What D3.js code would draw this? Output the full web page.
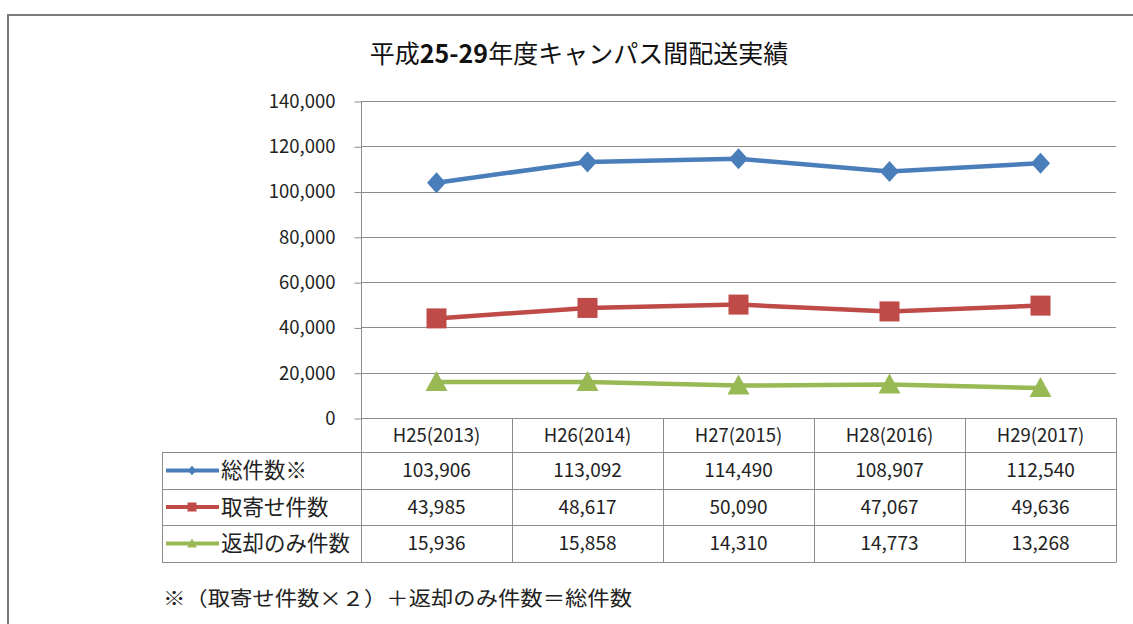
<!DOCTYPE html>
<html><head><meta charset="utf-8">
<script src="https://cdn.jsdelivr.net/npm/d3@7"></script>
<style>
html,body{margin:0;padding:0;background:#fff;}
svg{display:block;font-family:"Noto Sans CJK JP","Noto Sans",sans-serif;}
</style></head>
<body><svg id="c" width="1133" height="624"></svg>
<script>
const titleParts = ["平成","25-29","年度キャンパス間配送実績"];
const categories = ["H25(2013)","H26(2014)","H27(2015)","H28(2016)","H29(2017)"];
const seriesNames = ["総件数※","取寄せ件数","返却のみ件数"];
const totalValues = [103906,113092,114490,108907,112540];
const pickupValues = [43985,48617,50090,47067,49636];
const returnOnlyValues = [15936,15858,14310,14773,13268];
const yTicks = [0,20000,40000,60000,80000,100000,120000,140000];
const footnote = "※（取寄せ件数×２）＋返却のみ件数＝総件数";

const colors = ["#4A7EBB","#BE4B48","#98B954"];
const series = [
  {name:seriesNames[0], values:totalValues, color:colors[0], shape:"diamond"},
  {name:seriesNames[1], values:pickupValues, color:colors[1], shape:"square"},
  {name:seriesNames[2], values:returnOnlyValues, color:colors[2], shape:"triangle"}
];

const svg = d3.select("#c");
svg.append("path").attr("d","M8,624 L8,15 L1140,15").attr("fill","none")
  .attr("stroke","#7a7a7a").attr("stroke-width",2);

const tt = svg.append("text").attr("x",579).attr("y",63).attr("text-anchor","middle")
  .attr("font-size",25).attr("fill","#111");
titleParts.forEach((p,i)=>tt.append("tspan").attr("font-weight",i===1?700:400).text(p));

const pL = 361, pR = 1116, pT = 101, pB = 418;
const x = d3.scaleBand().domain(categories).range([pL,pR]);
const y = d3.scaleLinear().domain([0,140000]).range([pB,pT]);

svg.append("g").selectAll("line").data(yTicks.filter(d=>d>0)).join("line")
  .attr("x1",pL).attr("x2",pR).attr("y1",d=>Math.round(y(d))+0.5).attr("y2",d=>Math.round(y(d))+0.5)
  .attr("stroke","#8c8c8c").attr("stroke-width",1);

const ax = svg.append("g").attr("transform",`translate(${pL+0.5},0.5)`)
  .call(d3.axisLeft(y).tickValues(yTicks).tickFormat(d3.format(",")).tickSize(7).tickPadding(19));
ax.select(".domain").attr("stroke","#8c8c8c").attr("d",`M0,${y(0)}V${pT}`);
ax.selectAll(".tick line").attr("stroke","#8c8c8c");
ax.selectAll(".tick text").attr("font-size",18.5).attr("fill","#222").attr("font-family","'Noto Sans CJK JP',sans-serif");

function markerPath(shape, s){
  if(shape==="diamond") return `M0,${-s*1.05}L${s*0.95},0L0,${s*1.05}L${-s*0.95},0Z`;
  if(shape==="square") return `M${-s},${-s}H${s}V${s}H${-s}Z`;
  return `M0,${-s*1.1}L${s*1.1},${s*0.9}L${-s*1.1},${s*0.9}Z`;
}
const cx = d => x(d) + x.bandwidth()/2;

series.forEach(s=>{
  const pts = categories.map((c,i)=>[cx(c), y(s.values[i])]);
  svg.append("path").attr("d",d3.line()(pts)).attr("fill","none")
    .attr("stroke",s.color).attr("stroke-width",4.5).attr("stroke-linejoin","round");
  svg.append("g").selectAll("path").data(pts).join("path")
    .attr("transform",d=>`translate(${d[0]},${d[1]})`)
    .attr("d",markerPath(s.shape, 10)).attr("fill",s.color);
});

const headerTop = pB, headerBot = 452;
const rowBounds = [452,489,525,562];
const legendLeft = 162;
const tg = svg.append("g");
const lc = "#8c8c8c";
tg.append("line").attr("x1",pL).attr("x2",pR).attr("y1",pB+0.5).attr("y2",pB+0.5).attr("stroke",lc);
rowBounds.forEach(b=>tg.append("line").attr("x1",legendLeft).attr("x2",pR).attr("y1",b+0.5).attr("y2",b+0.5).attr("stroke",lc));
const colEdges = categories.map(c=>x(c)).concat([pR]);
colEdges.forEach(e=>tg.append("line").attr("x1",Math.round(e)+0.5).attr("x2",Math.round(e)+0.5).attr("y1",headerTop).attr("y2",rowBounds[3]+0.5).attr("stroke",lc));
tg.append("line").attr("x1",legendLeft+0.5).attr("x2",legendLeft+0.5).attr("y1",rowBounds[0]).attr("y2",rowBounds[3]+0.5).attr("stroke",lc);

tg.selectAll(".hd").data(categories).join("text").attr("class","hd")
  .attr("x",d=>cx(d)).attr("y",(headerTop+headerBot)/2+6.5).attr("text-anchor","middle")
  .attr("font-size",18.5).attr("fill","#222").text(d=>d);
const fmt = d3.format(",");
series.forEach((s,r)=>{
  const yc = (rowBounds[r]+rowBounds[r+1])/2;
  tg.selectAll(".v"+r).data(s.values).join("text").attr("class","v"+r)
    .attr("x",(d,i)=>cx(categories[i])).attr("y",yc+6.5).attr("text-anchor","middle")
    .attr("font-size",19).attr("fill","#222").text(d=>fmt(d));
  tg.append("line").attr("x1",166).attr("x2",219).attr("y1",yc).attr("y2",yc)
    .attr("stroke",s.color).attr("stroke-width",4);
  tg.append("path").attr("transform",`translate(192,${yc})`).attr("d",markerPath(s.shape,4.5)).attr("fill",s.color);
  tg.append("text").attr("x",221).attr("y",yc+7.5).attr("font-size",21.5).attr("fill","#222").text(s.name);
});

svg.append("text").attr("x",163).attr("y",606).attr("font-size",20).attr("fill","#222")
  .attr("textLength",469).attr("lengthAdjust","spacingAndGlyphs").text(footnote);
</script></body></html>
